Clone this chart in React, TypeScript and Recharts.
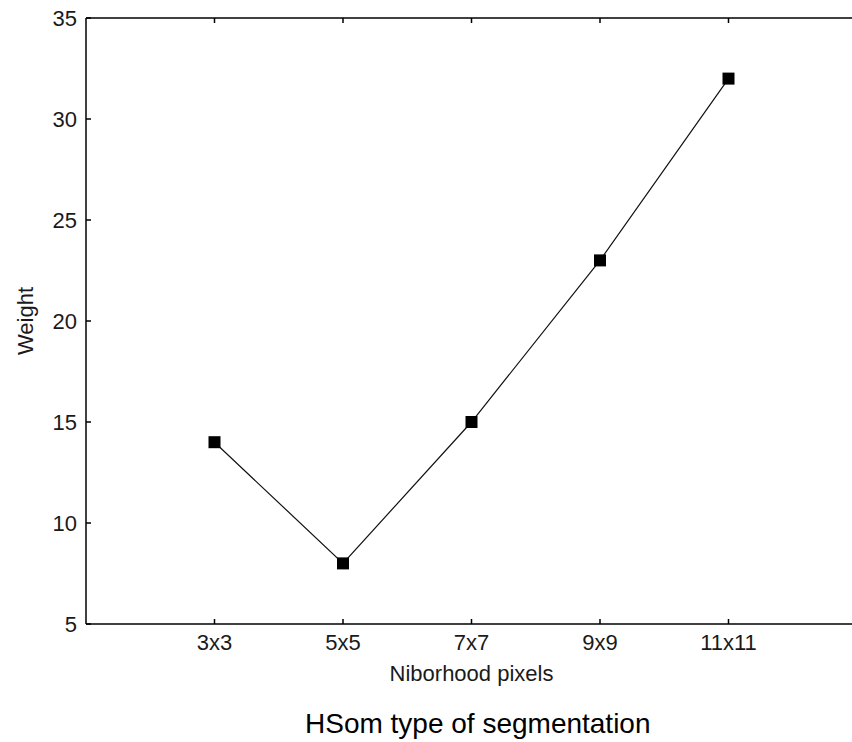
import React from 'react';
import { LineChart, Line, XAxis, YAxis } from 'recharts';

const categories = ['3x3', '5x5', '7x7', '9x9', '11x11'];
const weights = [14, 8, 15, 23, 32];
const yTicks = [5, 10, 15, 20, 25, 30, 35];
const xTicks = [1, 2, 3, 4, 5];

const data = categories.map((c, i) => ({ x: i + 1, label: c, weight: weights[i] }));

const FONT = 'Arial, "Liberation Sans", sans-serif';
const tickStyle = { fill: '#1a1a1a', fontSize: 22, fontFamily: FONT };

const SquareDot = (props: any) => {
  const { cx, cy, index } = props;
  if (cx == null || cy == null) return null;
  return <rect key={`d${index}`} x={cx - 6} y={cy - 6} width={12} height={12} fill="#000" />;
};

export default function App() {
  return (
    <div style={{ position: 'absolute', left: 0, top: 0, width: 852, height: 742, overflow: 'hidden', background: '#fff' }}>
      <LineChart
        width={860}
        height={742}
        data={data}
        margin={{ top: 17, right: 2, left: 0, bottom: 58 }}
      >
        <XAxis
          xAxisId="b"
          type="number"
          dataKey="x"
          domain={[0, 6]}
          ticks={xTicks}
          tickFormatter={(v: number) => categories[v - 1] ?? ''}
          tickSize={-5}
          tickMargin={15}
          height={60}
          stroke="#000"
          strokeWidth={1.5}
          tick={tickStyle}
          label={{ value: 'Niborhood pixels', position: 'center', dy: 19, style: { fill: '#1a1a1a', fontSize: 22, fontFamily: FONT } }}
        />
        <XAxis
          xAxisId="t"
          orientation="top"
          type="number"
          dataKey="x"
          domain={[0, 6]}
          ticks={xTicks}
          tickFormatter={() => ''}
          tickSize={-5}
          height={1}
          stroke="#000"
          strokeWidth={1.5}
        />
        <YAxis
          yAxisId="l"
          type="number"
          domain={[5, 35]}
          ticks={yTicks}
          tickSize={-5}
          tickMargin={14}
          width={86}
          stroke="#000"
          strokeWidth={1.5}
          tick={tickStyle}
          label={{ value: 'Weight', angle: -90, position: 'center', dx: -18, style: { fill: '#1a1a1a', fontSize: 22, fontFamily: FONT } }}
        />
        <YAxis
          yAxisId="r"
          orientation="right"
          type="number"
          domain={[5, 35]}
          ticks={yTicks}
          tickFormatter={() => ''}
          tickSize={-8}
          width={1}
          stroke="#000"
          strokeWidth={1.5}
        />
        <Line
          xAxisId="b"
          yAxisId="l"
          type="linear"
          dataKey="weight"
          stroke="#111"
          strokeWidth={1.2}
          dot={SquareDot}
          activeDot={false}
          isAnimationActive={false}
        />
      </LineChart>
      <div
        style={{
          position: 'absolute',
          left: 305,
          top: 708,
          whiteSpace: 'nowrap',
          fontFamily: FONT,
          fontSize: 28,
          color: '#000',
          lineHeight: 'normal',
        }}
      >
        HSom type of segmentation
      </div>
    </div>
  );
}
